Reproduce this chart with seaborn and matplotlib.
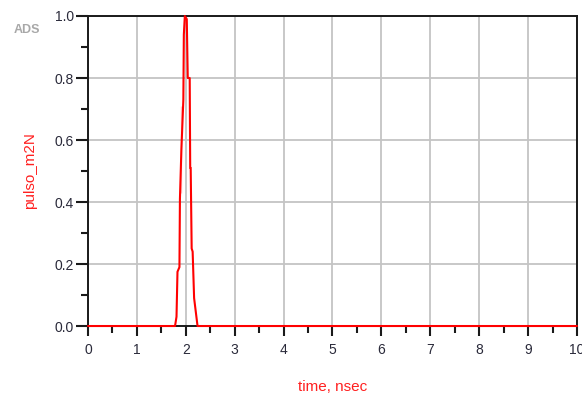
import numpy as np
import pandas as pd
import seaborn as sns
import matplotlib.pyplot as plt
from matplotlib.ticker import MultipleLocator

# pulse (time in ns, normalised amplitude)
time_ns = [0.0, 1.78, 1.81, 1.83, 1.87, 1.88, 1.91, 1.91, 1.95, 1.96, 1.98,
           2.02, 2.04, 2.08, 2.09, 2.10, 2.12, 2.14, 2.17, 2.24, 10.0]
pulso = [0.0, 0.0, 0.03, 0.175, 0.19, 0.41, 0.43, 0.71, 0.73, 0.94, 1.0,
         0.99, 0.80, 0.80, 0.51, 0.51, 0.25, 0.24, 0.09, 0.0, 0.0]

x_ticks = [0, 1, 2, 3, 4, 5, 6, 7, 8, 9, 10]
y_ticks = [0.0, 0.2, 0.4, 0.6, 0.8, 1.0]

df = pd.DataFrame({"time": time_ns, "pulso_m2N": pulso})

sns.set_style("white")
plt.rcParams["font.family"] = ["Liberation Sans", "DejaVu Sans"]

fig = plt.figure(figsize=(5.82, 3.97), dpi=100)
ax = fig.add_axes([0.1512, 0.1788, 0.8402, 0.7809])

g = sns.lineplot(data=df, x="time", y="pulso_m2N", color="#ff0000",
                 linewidth=1.5, ax=ax, clip_on=False, zorder=5)

ax.set_xlim(0, 10)
ax.set_ylim(0, 1.0)
ax.set_xticks(x_ticks)
ax.set_yticks(y_ticks)
ax.set_xticklabels([str(t) for t in x_ticks])
ax.set_yticklabels([f"{t:.1f}" for t in y_ticks])
ax.xaxis.set_minor_locator(MultipleLocator(0.5))
ax.yaxis.set_minor_locator(MultipleLocator(0.1))

ax.grid(True, which="major", color="#c4c4c4", linewidth=1.3)
ax.set_axisbelow(True)
for s in ax.spines.values():
    s.set_visible(True)
    s.set_color("#1a1a1a")
    s.set_linewidth(1.4)

ax.tick_params(bottom=True, left=True, top=False, right=False, which="both")
ax.tick_params(axis="both", which="major", direction="out", color="#1a1a1a",
               width=1.5, labelsize=10, labelcolor="#2a2a3a")
ax.tick_params(axis="x", which="major", length=7, pad=5)
ax.tick_params(axis="y", which="major", length=9, pad=1)
ax.tick_params(axis="both", which="minor", direction="out", color="#1a1a1a",
               width=1.5, length=5)

ax.set_xlabel("time, nsec", color="#ff2020", fontsize=11, labelpad=17)
ax.set_ylabel("pulso_m2N", color="#ff2020", fontsize=11, labelpad=13)

fig.text(0.024, 0.917, "ADS", color="#a8a8a8", fontsize=9, fontweight="bold")

plt.savefig("out.png", dpi=100)
plt.close()
